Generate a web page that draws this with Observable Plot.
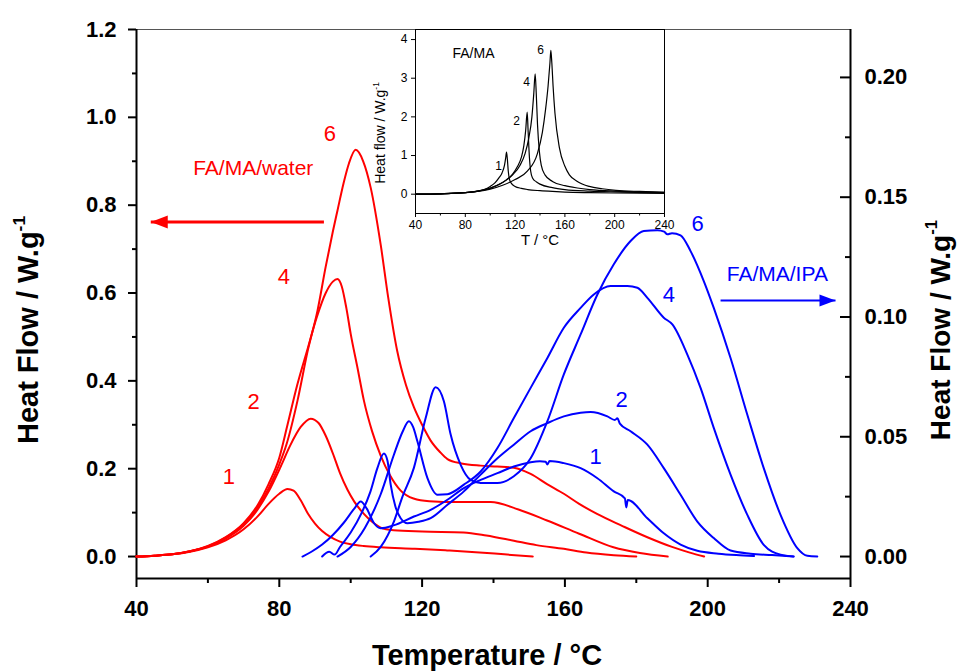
<!DOCTYPE html>
<html><head><meta charset="utf-8">
<script src="https://cdn.jsdelivr.net/npm/d3@7"></script>
<script src="https://cdn.jsdelivr.net/npm/@observablehq/plot@0.6"></script>
<style>
html,body{margin:0;padding:0;background:#fff;}
#wrap{position:relative;width:957px;height:672px;overflow:hidden;}
#wrap svg{display:block;}
#inset{position:absolute;left:360px;top:20px;}
</style></head><body><div id="wrap"><div id="main"></div><div id="inset"></div></div>
<script>
// ---------- axes / ticks ----------
const xDomain = [40, 240];
const xTicks = [40, 80, 120, 160, 200, 240];
const xMinor = [60, 100, 140, 180, 220];
const yLeftDomain = [-0.05, 1.2];
const yLeftTicks = [0, 0.2, 0.4, 0.6, 0.8, 1.0, 1.2];
const yLeftMinor = [0.1, 0.3, 0.5, 0.7, 0.9, 1.1];
const yRightTop = 0.22;
const yRightTicks = [0, 0.05, 0.10, 0.15, 0.20];
const yRightMinor = [0.025, 0.075, 0.125, 0.175];
const insetXTicks = [40, 80, 120, 160, 200, 240];
const insetXMinor = [60, 100, 140, 180, 220];
const insetYDomain = [-0.5, 4.26];
const insetYTicks = [0, 1, 2, 3, 4];

const xTitle = "Temperature / °C";
const yTitle = "Heat Flow / W.g";
const insetXTitle = "T / °C";
const insetYTitle = "Heat flow / W.g";
const unitSup = "-1";

// ---------- FA/MA/water (red, left axis, W/g) ----------
const red1 = [[40,0],[45,0.002],[50,0.005],[55,0.011],[60,0.021],[65,0.037],[70,0.062],[74,0.092],[77,0.12],[80,0.143],[82.3,0.154],[84,0.15],[86,0.128],[88,0.098],[90,0.075],[92,0.058],[94.4,0.044],[97,0.034],[100,0.028],[103.6,0.024],[108.4,0.021],[118,0.018],[127,0.014],[135,0.01],[143,0.005],[151,0]];
const red2 = [[40,0],[45,0.002],[50,0.005],[55,0.012],[60,0.023],[65,0.041],[70,0.07],[74,0.108],[77,0.148],[80.4,0.205],[83,0.252],[86,0.295],[88.8,0.314],[91,0.304],[93,0.275],[95,0.235],[97,0.19],[99.1,0.152],[101,0.125],[103.7,0.097],[106,0.079],[108.4,0.066],[112,0.06],[120,0.057],[131.6,0.055],[138,0.048],[145.7,0.036],[152,0.026],[159.7,0.0175],[166,0.009],[173.7,0.003],[180,0]];
const red4 = [[40,0],[45,0.002],[50,0.005],[55,0.012],[60,0.024],[65,0.044],[70,0.076],[74,0.118],[77,0.165],[80,0.225],[82.3,0.3],[85,0.39],[88,0.475],[90.5,0.545],[93,0.6],[95,0.626],[96.3,0.632],[97.5,0.615],[98.8,0.565],[100,0.507],[101.9,0.43],[103.7,0.355],[106,0.285],[108.4,0.23],[111,0.185],[114,0.15],[117.6,0.132],[122,0.126],[130,0.124],[139.2,0.124],[147,0.107],[155,0.082],[164,0.052],[173.6,0.021],[181,0.008],[188.8,0]];
const red6 = [[40,0],[45,0.002],[50,0.005],[55,0.012],[60,0.023],[65,0.043],[70,0.074],[74,0.113],[77,0.155],[80,0.21],[82,0.255],[85.1,0.355],[88,0.47],[90.7,0.56],[93,0.66],[95,0.74],[96.3,0.788],[98,0.85],[99.5,0.895],[101.4,0.926],[103.5,0.9],[105.6,0.84],[108.4,0.71],[110.5,0.59],[113,0.469],[115.5,0.39],[117.7,0.34],[120,0.3],[122.4,0.264],[125,0.238],[127.1,0.222],[131,0.212],[136.4,0.207],[141,0.205],[145.7,0.202],[150.4,0.188],[155,0.165],[159.7,0.143],[164,0.12],[169,0.097],[176,0.07],[183.1,0.044],[190,0.022],[195,0.009],[199,0]];

// ---------- FA/MA/IPA (blue, right axis, W/g) ----------
const blue1 = [[86.5,0],[89,0.002],[92,0.005],[95,0.009],[98,0.014],[101,0.02],[102.8,0.023],[104.5,0.02],[106.5,0.014],[108.4,0.0118],[112,0.013],[117.7,0.0167],[122.4,0.0195],[127.1,0.0237],[131.7,0.0286],[136.4,0.032],[141.1,0.0348],[145.7,0.0376],[150.4,0.0394],[153,0.0398],[154.6,0.0396],[155.1,0.0384],[155.7,0.0399],[159.7,0.039],[164.4,0.0369],[169.1,0.0327],[173.7,0.0272],[176.8,0.0243],[177.2,0.0205],[177.6,0.0236],[183.1,0.016],[187.7,0.0097],[192.4,0.005],[197.1,0.0024],[203,0.0012],[208,0.0006],[213,0.0002]];
const blue2 = [[92,0],[94,0.002],[95.5,0.0008],[97,0.004],[100,0.01],[103,0.018],[105.5,0.027],[107.5,0.037],[109.3,0.043],[110.3,0.04],[111.2,0.03],[112.5,0.021],[114,0.016],[115.9,0.0139],[119,0.0145],[122.4,0.016],[127.1,0.0216],[131.7,0.0272],[136.4,0.0342],[141.1,0.041],[145.7,0.0467],[150.4,0.0523],[155.1,0.0557],[159.7,0.0585],[164.4,0.06],[167.2,0.0603],[171.9,0.0585],[174,0.057],[174.7,0.0577],[175.4,0.0555],[178.4,0.0523],[183.1,0.0467],[187.7,0.0369],[192.4,0.0258],[197.1,0.0146],[201.7,0.0077],[206.4,0.0025],[212,0.0012],[218,0.0006],[224,0]];
const blue4 = [[96.3,0],[100,0.004],[104,0.012],[108.4,0.026],[112.1,0.0425],[114.5,0.052],[116.3,0.0565],[117.5,0.054],[118.7,0.048],[121.5,0.0327],[124.3,0.0258],[127.1,0.026],[131.7,0.03],[136.4,0.0355],[141.1,0.0453],[145.7,0.0578],[150.4,0.0704],[155.1,0.0829],[159.7,0.0955],[164.4,0.1038],[168.1,0.1094],[172.8,0.1129],[177.5,0.1129],[180.3,0.1122],[183.1,0.108],[187.7,0.0997],[190.1,0.0969],[194.3,0.0843],[198,0.0704],[201.7,0.0537],[206.4,0.0342],[211.1,0.0174],[215.7,0.0049],[220.4,0.0008],[224.1,0]];
const blue6 = [[105.6,0],[108.4,0.004],[112.1,0.0146],[114.5,0.025],[117.7,0.037],[121,0.0578],[123.8,0.0707],[126.1,0.0648],[128,0.0509],[130.8,0.0383],[133.6,0.032],[136.4,0.0307],[141.1,0.0307],[145.7,0.0335],[150.4,0.041],[155.1,0.0565],[159.7,0.076],[164.4,0.0927],[169.1,0.1094],[173.7,0.122],[178.4,0.1317],[182.1,0.1359],[185.9,0.1362],[187.8,0.1356],[188.7,0.1345],[190,0.135],[192.4,0.1341],[195.2,0.1275],[198.9,0.115],[201.7,0.1038],[206.4,0.0829],[211.1,0.0592],[215.7,0.0369],[220.4,0.0174],[225.1,0.0035],[227.9,0.0003],[230.7,0]];

// ---------- FA/MA (inset, black, W/g) ----------
const ins1 = [[40,0],[60,0.01],[80,0.04],[90,0.08],[95,0.12],[100,0.2],[104,0.3],[107,0.42],[109.5,0.55],[111.5,0.75],[112.5,0.95],[113.1,1.09],[113.8,0.9],[114.5,0.6],[115.5,0.38],[117,0.28],[120,0.2],[125,0.15],[130,0.12],[140,0.09],[150,0.07],[160,0.055],[180,0.04],[200,0.03],[240,0.02]];
const ins2 = [[40,0],[60,0.01],[80,0.04],[90,0.08],[100,0.16],[108,0.27],[113,0.37],[118,0.52],[122,0.72],[125,0.95],[127,1.25],[128.5,1.65],[129.7,2.12],[130.5,1.6],[131.5,0.95],[132.5,0.6],[134,0.42],[137,0.32],[140,0.26],[150,0.17],[160,0.12],[180,0.08],[200,0.06],[240,0.04]];
const ins4 = [[40,0],[60,0.01],[80,0.04],[90,0.08],[100,0.15],[110,0.3],[118,0.5],[124,0.75],[128,1.05],[131,1.45],[133.5,2.0],[135,2.6],[136.1,3.11],[137,2.6],[138,1.8],[139.5,1.1],[141,0.75],[144,0.5],[150,0.33],[160,0.22],[170,0.16],[180,0.12],[200,0.08],[220,0.06],[240,0.05]];
const ins6 = [[40,0],[60,0.01],[80,0.04],[90,0.07],[100,0.13],[110,0.23],[120,0.38],[130,0.6],[137.9,1.05],[141.9,1.6],[144.5,2.2],[146.5,2.8],[148,3.4],[148.7,3.72],[149.5,3.4],[150.5,2.8],[152,2.1],[155.6,1.2],[160,0.72],[163.6,0.5],[170,0.33],[179.6,0.2],[190,0.14],[201,0.1],[220,0.07],[240,0.05]];

// ---------- annotations ----------
const redLabels = [{t:"1",x:65.9,y:0.181},{t:"2",x:72.8,y:0.351},{t:"4",x:81.3,y:0.636},{t:"6",x:94.2,y:0.963}];
const redNote = [{t:"FA/MA/water",x:72.7,y:0.883}];
const redArrow = [{x1:92.5,x2:44.0,y:0.7615}];
const blueLabels = [{t:"1",x:168.6,r:0.0414},{t:"2",x:175.9,r:0.0655},{t:"4",x:189.1,r:0.1094},{t:"6",x:197.2,r:0.139}];
const blueNote = [{t:"FA/MA/IPA",x:219.5,r:0.1178}];
const blueArrow = [{x1:203.6,x2:235.8,r:0.1069}];
const insetNote = [{t:"FA/MA",x:69.7,y:3.64}];
const insetLabels = [{t:"1",x:106.7,y:0.72},{t:"2",x:121.1,y:1.88},{t:"4",x:129.2,y:2.89},{t:"6",x:140.4,y:3.72}];

// ---------- build ----------
const k = yLeftDomain[1] / yRightTop; // right-axis value -> left-axis units
const rows = (arr, s) => arr.map(([T, v]) => ({s, T, v}));
const redRows = [...rows(red1,"1"),...rows(red2,"2"),...rows(red4,"4"),...rows(red6,"6")];
const blueRows = [...rows(blue1,"1"),...rows(blue2,"2"),...rows(blue4,"4"),...rows(blue6,"6")];
const insRows = [...rows(ins1,"1"),...rows(ins2,"2"),...rows(ins4,"4"),...rows(ins6,"6")];

const FONT = "'Liberation Sans', Arial, sans-serif";
const headLeft = {draw(ctx){ ctx.moveTo(0,0); ctx.lineTo(17,-6.5); ctx.lineTo(17,6.5); ctx.closePath(); }};
const headRight = {draw(ctx){ ctx.moveTo(0,0); ctx.lineTo(-16,-6); ctx.lineTo(-16,6); ctx.closePath(); }};

const main = Plot.plot({
  width: 957, height: 672,
  marginLeft: 136, marginRight: 107, marginTop: 29, marginBottom: 94,
  x: {domain: xDomain},
  y: {domain: yLeftDomain},
  style: {fontFamily: FONT, background: "white", color: "black"},
  marks: [
    Plot.ruleY([yLeftDomain[1]], {stroke: "#555", strokeWidth: 1}),
    Plot.ruleX([xDomain[0]], {strokeWidth: 2}),
    Plot.ruleX([xDomain[1]], {strokeWidth: 2}),
    Plot.ruleY([yLeftDomain[0]], {strokeWidth: 2}),
    Plot.axisX(xTicks, {anchor: "bottom", tickSize: 9, tickPadding: 13, strokeWidth: 2, fontSize: 22, fontWeight: "bold", label: null}),
    Plot.axisX(xMinor, {anchor: "bottom", tickSize: 5, strokeWidth: 2, fill: "none", label: null}),
    Plot.axisY(yLeftTicks, {anchor: "left", tickSize: 8, tickPadding: 12, strokeWidth: 2, tickFormat: d3.format(".1f"), fontSize: 22, fontWeight: "bold", label: null}),
    Plot.axisY(yLeftMinor, {anchor: "left", tickSize: 4, strokeWidth: 2, fill: "none", label: null}),
    Plot.axisY(yRightTicks.map(d => d * k), {anchor: "left", frameAnchor: "right", tickSize: 10, strokeWidth: 2, fill: "none", label: null}),
    Plot.axisY(yRightMinor.map(d => d * k), {anchor: "left", frameAnchor: "right", tickSize: 5, strokeWidth: 2, fill: "none", label: null}),
    Plot.axisY(yRightTicks.map(d => d * k), {anchor: "right", tickSize: 0, tickPadding: 14, tickFormat: d => d3.format(".2f")(d / k), fontSize: 22, fontWeight: "bold", label: null}),
    Plot.line(redRows, {x: "T", y: "v", z: "s", stroke: "#ff0000", strokeWidth: 2, curve: "monotone-x"}),
    Plot.line(blueRows, {x: "T", y: d => d.v * k, z: "s", stroke: "#0000ff", strokeWidth: 2, curve: "monotone-x"}),
    Plot.text(redLabels, {x: "x", y: "y", text: "t", fill: "#ff0000", fontSize: 22}),
    Plot.text(redNote, {x: "x", y: "y", text: "t", fill: "#ff0000", fontSize: 21}),
    Plot.link(redArrow, {x1: "x1", x2: "x2", y1: "y", y2: "y", stroke: "#ff0000", strokeWidth: 3}),
    Plot.dot(redArrow, {x: "x2", y: "y", symbol: headLeft, fill: "#ff0000", stroke: null, r: 5}),
    Plot.text(blueLabels, {x: "x", y: d => d.r * k, text: "t", fill: "#0000ff", fontSize: 22}),
    Plot.text(blueNote, {x: "x", y: d => d.r * k, text: "t", fill: "#0000ff", fontSize: 21}),
    Plot.link(blueArrow, {x1: "x1", x2: "x2", y1: d => d.r * k, y2: d => d.r * k, stroke: "#0000ff", strokeWidth: 2}),
    Plot.dot(blueArrow, {x: "x2", y: d => d.r * k, symbol: headRight, fill: "#0000ff", stroke: null, r: 5})
  ]
});

const inset = Plot.plot({
  width: 322, height: 240,
  marginLeft: 55, marginRight: 18, marginTop: 9, marginBottom: 47,
  x: {domain: xDomain},
  y: {domain: insetYDomain},
  style: {fontFamily: FONT, background: "transparent", color: "black"},
  marks: [
    Plot.frame({fill: "white", stroke: "black", strokeWidth: 1}),
    Plot.axisX(insetXTicks, {anchor: "bottom", tickSize: 4, tickPadding: 3, fontSize: 12, label: null}),
    Plot.axisX(insetXMinor, {anchor: "bottom", tickSize: 2.5, fill: "none", label: null}),
    Plot.axisY(insetYTicks, {anchor: "left", tickSize: 4, tickPadding: 4, fontSize: 12, label: null}),
    Plot.line(insRows, {x: "T", y: "v", z: "s", stroke: "black", strokeWidth: 1.2, curve: "monotone-x"}),
    Plot.text(insetNote, {x: "x", y: "y", text: "t", textAnchor: "start", fontSize: 14}),
    Plot.text(insetLabels, {x: "x", y: "y", text: "t", fontSize: 12})
  ]
});

function addTitle(svg, {x, y, rotate = 0, size, weight = "bold", main, sup}) {
  const t = d3.select(svg).append("text")
    .attr("transform", `translate(${x},${y}) rotate(${rotate})`)
    .attr("text-anchor", "middle").attr("font-family", FONT)
    .attr("font-size", size).attr("font-weight", weight).attr("fill", "black");
  t.append("tspan").attr("dy", "0.35em").text(main);
  if (sup) t.append("tspan").attr("font-size", size * 0.6).attr("dy", -size * 0.45).text(sup);
}
addTitle(main, {x: 487, y: 655, size: 29, main: xTitle});
addTitle(main, {x: 28, y: 330, rotate: -90, size: 29, main: yTitle, sup: unitSup});
addTitle(main, {x: 940, y: 330, rotate: -90, size: 28, main: yTitle, sup: unitSup});
addTitle(inset, {x: 180, y: 220, size: 15, weight: "normal", main: insetXTitle});
addTitle(inset, {x: 20, y: 113, rotate: -90, size: 14, weight: "normal", main: insetYTitle, sup: unitSup});

document.getElementById("main").appendChild(main);
document.getElementById("inset").appendChild(inset);
</script></body></html>
